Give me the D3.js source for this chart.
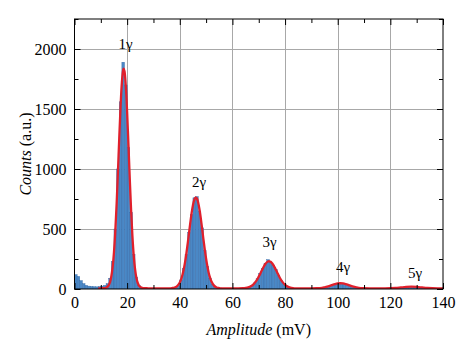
<!DOCTYPE html>
<html><head><meta charset="utf-8">
<script src="https://cdn.jsdelivr.net/npm/d3@7/dist/d3.min.js"></script>
<style>html,body{margin:0;padding:0;background:#fff;}svg{display:block;}</style>
</head><body>
<script>
// Histogram: 1 mV bins starting at 0 mV
const binStartMV = 0;
const binWidthMV = 1;
const histCounts = [
 120,105,70,45,30,24,21,19,18,20, 24,30,45,90,230,500,1000,1560,1890,1700,
 1180,640,290,100,30,10,7,6,5,6, 5,6,5,6,5,6,7,9,12,28,
 75,170,290,470,620,760,770,650,510,320, 190,90,40,15,10,8,6,5,6,5,
 6,5,6,6,7,9,14,28,50,86, 130,170,215,245,225,200,165,112,74,48,
 25,13,9,7,6,5,6,5,6,6, 6,7,8,9,12,16,23,30,37,44,
 48,47,43,38,29,22,17,11,9,7, 6,6,5,6,6,5,6,6,7,7,
 8,8,9,11,14,16,18,20,19,19, 17,13,10,8,7,6,6,5,6,5
];
// Fit curve (mV, counts)
const fitCurve = [
 [9,6],[10,6],[11,7],[12,11],[13,31],[13.5,57],[14,106],[14.5,186],[15,308],[15.5,482],[16,707],[16.5,975],
 [17,1258],[17.5,1521],[18,1722],[18.5,1826],[18.7,1836],[19,1814],[19.5,1688],[20,1472],[20.5,1201],[21,919],
 [21.5,659],[22,443],[22.5,280],[23,167],[23.5,94],[24,52],[24.5,28],[25,16],[26,8],[28,6],[30,6],[32,6],[34,6],[36,6],[37,8],
 [38,12],[39,24],[40,54],[40.5,80],[41,117],[41.5,164],[42,224],[42.5,296],[43,378],[43.5,465],[44,553],[44.5,633],
 [45,698],[45.5,743],[46,762],[46.5,754],[47,719],[47.5,661],[48,586],[48.5,500],[49,412],[49.5,328],[50,252],
 [50.5,187],[51,134],[51.5,94],[52,64],[53,28],[54,13],[55,8],[56,6],[58,6],[60,6],[62,6],
 [64,7],[65,9],[66,13],[67,22],[68,39],[69,65],[70,103],[70.5,124],[71,147],[71.5,169],[72,190],[72.5,208],
 [73,221],[73.5,229],[74,231],[74.5,227],[75,216],[75.5,201],[76,182],[76.5,161],[77,138],[78,94],[79,59],
 [80,34],[81,20],[82,12],[83,8],[84,6],[86,6],[88,6],[90,6],
 [92,7],[94,10],[95,14],[96,19],[97,26],[98,34],[99,41],[100,46],[101,48],[102,46],[103,41],[104,34],[105,26],
 [106,19],[107,14],[108,10],[110,7],[112,6],[114,6],[116,6],[118,6],
 [120,7],[122,9],[124,13],[126,17],[128,19],[130,17],[132,13],[134,9],[136,7],[138,6],[140,6]
];
const peakLabels = ["1γ","2γ","3γ","4γ","5γ"];
const peakLabelMV = [19.4, 47.3, 74.1, 102, 129.4];
const peakLabelCounts = [2000, 850, 346, 142, 88];

const xTicks = [0,20,40,60,80,100,120,140];
const xMinorTicks = [10,30,50,70,90,110,130];
const yTicks = [0,500,1000,1500,2000];
const yMinorTicks = [250,750,1250,1750,2250];
const xGrid = [20,40,60,80,100,120];
const yGrid = [500,1000,1500,2000];

const W = 474, H = 342;
const L = 74.5, R = 443, T = 19, B = 289;
const x = d3.scaleLinear().domain([0,140]).range([L,R]);
const y = d3.scaleLinear().domain([0,2250]).range([B,T]);

const svg = d3.select("body").append("svg").attr("width",W).attr("height",H);
svg.append("rect").attr("width",W).attr("height",H).attr("fill","#fff");
svg.append("defs").append("clipPath").attr("id","clip")
  .append("rect").attr("x",L).attr("y",T).attr("width",R-L).attr("height",B-T);

const grid = svg.append("g").attr("stroke","#a8a8a8").attr("stroke-width",1);
grid.selectAll("line.vx").data(xGrid).join("line").attr("class","vx")
  .attr("x1",d=>Math.round(x(d))+0.5).attr("x2",d=>Math.round(x(d))+0.5).attr("y1",T).attr("y2",B);
grid.selectAll("line.hy").data(yGrid).join("line").attr("class","hy")
  .attr("y1",d=>Math.round(y(d))+0.5).attr("y2",d=>Math.round(y(d))+0.5).attr("x1",L).attr("x2",R);

const plot = svg.append("g").attr("clip-path","url(#clip)");
plot.selectAll("rect.bar").data(histCounts).join("rect").attr("class","bar")
  .attr("x",(d,i)=>x(binStartMV+i*binWidthMV))
  .attr("width",(d,i)=>x(binStartMV+(i+1)*binWidthMV)-x(binStartMV+i*binWidthMV))
  .attr("y",d=>y(d)).attr("height",d=>y(0)-y(d))
  .attr("fill","#4a88c6").attr("stroke","#3468a6").attr("stroke-width",0.4);

const line = d3.line().x(d=>x(d[0])).y(d=>y(d[1])).curve(d3.curveCatmullRom.alpha(0.5));
plot.append("path").datum(fitCurve).attr("d",line)
  .attr("fill","none").attr("stroke","#e0202c").attr("stroke-width",2.3).attr("stroke-linejoin","round");

// frame
svg.append("rect").attr("x",L).attr("y",T).attr("width",R-L).attr("height",B-T)
  .attr("fill","none").attr("stroke","#000").attr("stroke-width",1);

const font = "'Liberation Serif','Times New Roman',serif";
function styleAxis(g){
  g.select(".domain").remove();
  g.selectAll(".tick line").attr("stroke","#000");
  g.selectAll("text").attr("font-family",font).attr("font-size",16).attr("fill","#000");
}
const fmt = d3.format("d");
svg.append("g").attr("transform",`translate(0,${B})`)
  .call(d3.axisBottom(x).tickValues(xTicks).tickSize(-6).tickPadding(8).tickFormat(fmt)).call(styleAxis);
svg.append("g").attr("transform",`translate(0,${B})`)
  .call(d3.axisBottom(x).tickValues(xMinorTicks).tickSize(-4).tickFormat("")).call(styleAxis);
svg.append("g").attr("transform",`translate(0,${T})`)
  .call(d3.axisTop(x).tickValues(xTicks).tickSize(-6).tickFormat("")).call(styleAxis);
svg.append("g").attr("transform",`translate(0,${T})`)
  .call(d3.axisTop(x).tickValues(xMinorTicks).tickSize(-4).tickFormat("")).call(styleAxis);
svg.append("g").attr("transform",`translate(${L},0)`)
  .call(d3.axisLeft(y).tickValues(yTicks).tickSize(-6).tickPadding(8).tickFormat(fmt)).call(styleAxis);
svg.append("g").attr("transform",`translate(${L},0)`)
  .call(d3.axisLeft(y).tickValues(yMinorTicks).tickSize(-4).tickFormat("")).call(styleAxis);
svg.append("g").attr("transform",`translate(${R},0)`)
  .call(d3.axisRight(y).tickValues(yTicks).tickSize(-6).tickFormat("")).call(styleAxis);
svg.append("g").attr("transform",`translate(${R},0)`)
  .call(d3.axisRight(y).tickValues(yMinorTicks).tickSize(-4).tickFormat("")).call(styleAxis);

// peak labels
svg.append("g").selectAll("text").data(peakLabels).join("text")
  .attr("x",(d,i)=>x(peakLabelMV[i])).attr("y",(d,i)=>y(peakLabelCounts[i]))
  .attr("text-anchor","middle").attr("font-family",font).attr("font-size",15).attr("fill","#000")
  .text(d=>d);

// axis titles
const xt = svg.append("text").attr("x",(L+R)/2).attr("y",335).attr("text-anchor","middle")
  .attr("font-family",font).attr("font-size",16).attr("fill","#000");
xt.append("tspan").attr("font-style","italic").text("Amplitude");
xt.append("tspan").text(" (mV)");
const yt = svg.append("text").attr("transform",`translate(31,${(T+B)/2}) rotate(-90)`).attr("text-anchor","middle")
  .attr("font-family",font).attr("font-size",16).attr("fill","#000");
yt.append("tspan").attr("font-style","italic").text("Counts");
yt.append("tspan").text(" (a.u.)");
</script>
</body></html>
